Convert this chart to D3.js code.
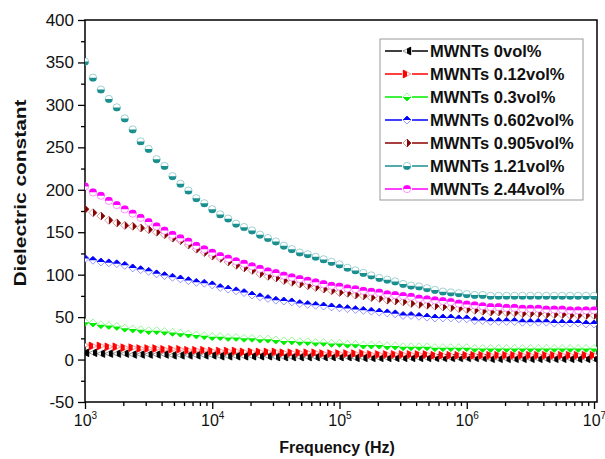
<!DOCTYPE html>
<html>
<head>
<meta charset="utf-8">
<script src="https://cdn.jsdelivr.net/npm/d3@7/dist/d3.min.js"></script>
<style>
  body { margin: 0; background: #fff; }
  text { font-family: Arial, "Liberation Sans", sans-serif; }
</style>
</head>
<body>
<script>
// frequency sweep (Hz), 16 points per decade
const freqs = [
  1000, 1155, 1334, 1540, 1778, 2054, 2371, 2738, 3162, 3652, 4217, 4870, 5623, 6494, 7499, 8660,
  10000, 11548, 13335, 15399, 17783, 20535, 23714, 27384, 31623, 36517, 42170, 48697, 56234, 64938, 74989, 86596,
  100000, 115478, 133352, 153993, 177828, 205353, 237137, 273842, 316228, 365174, 421697, 486968, 562341, 649382, 749894, 865964,
  1000000, 1154782, 1333521, 1539927, 1778279, 2053525, 2371374, 2738420, 3162278, 3651741, 4216965, 4869675, 5623413, 6493816, 7498942, 8659643,
  10000000
];

const mwnt0 = [8,8,7,7,7,7,6,6,6,6, 6,5,5,5,5,5,5,4,4,4, 4,4,4,4,3,3,3,3,3,3,
  3,3,3,3,2,2,2,2,2,2, 2,2,2,2,2,2,2,2,2,2, 2,1,1,1,1,1,1,1,1,1, 1,1,1,1,1];
const mwnt012 = [17,16,16,15,15,14,14,13,13,13, 12,12,12,11,11,11,10,10,10,10, 9,9,9,9,9,8,8,8,8,8,
  7,7,7,7,7,7,6,6,6,6, 6,6,6,6,5,5,5,5,5,5, 5,5,5,5,5,5,5,5,5,5, 5,5,5,5,5];
const mwnt03 = [44,43,41,40,39,37,36,35,34,34, 33,32,31,30,29,28,27,27,26,26, 25,25,24,24,23,22,22,21,21,20,
  20,19,19,18,18,17,17,17,16,16, 15,15,15,15,14,14,14,14,14,13, 13,13,13,13,13,13,13,13,13,13, 13,13,13,13,13];
const mwnt0602 = [119,117,115,114,113,111,108,106,104,101, 99,97,95,93,91,90,88,85,83,81, 79,76,74,72,70,69,68,66,65,64,
  63,62,61,60,59,58,57,56,55,54, 52,52,51,50,49,49,49,48,48,46, 46,45,45,45,45,44,44,44,44,43, 43,43,43,42,42];
const mwnt0905 = [177,173,169,164,161,158,157,155,153,150, 147,143,140,135,130,126,122,119,115,111, 108,105,101,98,96,93,91,89,87,85,
  83,81,79,78,76,75,73,72,70,69, 68,66,65,64,63,62,61,60,59,58, 57,56,56,55,55,54,54,54,53,53, 53,52,52,52,52];
const mwnt121 = [351,332,318,307,297,284,271,257,248,236, 228,216,207,199,190,184,177,171,166,160, 156,152,147,143,139,134,130,126,124,121,
  118,115,112,108,105,102,99,96,94,92, 89,87,86,84,82,80,79,78,77,76, 76,75,75,75,75,75,75,75,75,75, 75,75,75,75,75];
const mwnt244 = [204,197,193,187,182,177,172,167,162,157, 152,147,143,139,134,130,126,122,119,116, 113,110,107,104,102,99,97,95,93,91,
  89,87,86,84,83,81,80,79,77,76, 75,74,72,71,70,69,68,66,65,64, 63,62,62,61,61,60,60,60,59,59, 59,58,58,58,58];

const seriesNames = ['MWNTs 0vol%', 'MWNTs 0.12vol%', 'MWNTs 0.3vol%', 'MWNTs 0.602vol%',
  'MWNTs 0.905vol%', 'MWNTs 1.21vol%', 'MWNTs 2.44vol%'];
const seriesValues = [mwnt0, mwnt012, mwnt03, mwnt0602, mwnt0905, mwnt121, mwnt244];

const yTicks = [-50, 0, 50, 100, 150, 200, 250, 300, 350, 400];
const xTicks = [1e3, 1e4, 1e5, 1e6, 1e7];

// styles
const colors = ['#000000', '#ff0000', '#00ee00', '#0000ff', '#8b0000', '#1a8f8f', '#ff00ff'];
const shapes = ['left', 'right', 'diamond', 'diamond', 'diamond', 'circle', 'circle'];
const halves = ['right', 'left', 'bottom', 'top', 'right', 'bottom', 'top'];

const width = 605, height = 459;
const mLeft = 85, mRight = 597, mTop = 20, mBottom = 402;

const svg = d3.select('body').append('svg')
  .attr('width', width)
  .attr('height', height);

const defs = svg.append('defs');
const halfRects = {
  top: [0, 0, 1, 0.5], bottom: [0, 0.5, 1, 0.5], left: [0, 0, 0.5, 1], right: [0.5, 0, 0.5, 1]
};
Object.keys(halfRects).forEach(k => {
  const r = halfRects[k];
  defs.append('clipPath').attr('id', 'half-' + k)
    .attr('clipPathUnits', 'objectBoundingBox')
    .append('rect').attr('x', r[0]).attr('y', r[1]).attr('width', r[2]).attr('height', r[3]);
});
defs.append('clipPath').attr('id', 'plot')
  .append('rect').attr('x', mLeft).attr('y', mTop).attr('width', mRight - mLeft).attr('height', mBottom - mTop);

const xScale = d3.scaleLog().domain([1e3, 1e7]).range([mLeft, 594]);
const yScale = d3.scaleLinear().domain([-50, 400]).range([mBottom, mTop]);

function shapePath(shape) {
  const r = 4;
  if (shape === 'left') return `M${-r},0L${r},${-r}L${r},${r}Z`;
  if (shape === 'right') return `M${r},0L${-r},${-r}L${-r},${r}Z`;
  if (shape === 'diamond') return `M0,${-r}L${r},0L0,${r}L${-r},0Z`;
  return d3.arc()({innerRadius: 0, outerRadius: 3.7, startAngle: 0, endAngle: 2 * Math.PI});
}

function drawMarker(g, i) {
  const p = shapePath(shapes[i]);
  g.append('path').attr('d', p)
    .attr('fill', '#fff')
    .attr('stroke', colors[i])
    .attr('stroke-opacity', 0.45)
    .attr('stroke-width', 0.9);
  g.append('path').attr('d', p)
    .attr('fill', colors[i])
    .attr('stroke', colors[i])
    .attr('stroke-width', 0.6)
    .attr('clip-path', 'url(#half-' + halves[i] + ')');
}

// axes
const yMinor = d3.range(-50, 401, 25).filter(v => v % 50 !== 0);
svg.append('g')
  .attr('transform', `translate(${mLeft},0)`)
  .call(d3.axisLeft(yScale).tickValues(yMinor).tickSize(4).tickFormat(''))
  .call(g => g.select('.domain').remove());
const yAxis = svg.append('g')
  .attr('transform', `translate(${mLeft},0)`)
  .call(d3.axisLeft(yScale).tickValues(yTicks).tickSize(7).tickPadding(4).tickFormat(d => String(d)));
yAxis.select('.domain').remove();
yAxis.selectAll('text').attr('font-size', 17).attr('fill', '#111');

const xMinor = [];
[1e3, 1e4, 1e5, 1e6].forEach(d => { for (let m = 2; m <= 9; m++) xMinor.push(d * m); });
svg.append('g')
  .attr('transform', `translate(0,${mBottom})`)
  .call(d3.axisBottom(xScale).tickValues(xMinor).tickSize(4).tickFormat(''))
  .call(g => g.select('.domain').remove());
const xAxis = svg.append('g')
  .attr('transform', `translate(0,${mBottom})`)
  .call(d3.axisBottom(xScale).tickValues(xTicks).tickSize(7).tickFormat(''));
xAxis.select('.domain').remove();
xAxis.selectAll('.tick').append('text')
  .attr('y', 24)
  .attr('fill', '#111')
  .attr('font-size', 16)
  .attr('text-anchor', 'middle')
  .each(function(d) {
    const t = d3.select(this);
    t.append('tspan').text('10');
    t.append('tspan').attr('dy', -7).attr('font-size', 10).text(Math.round(Math.log10(d)));
  });

svg.selectAll('.tick line').attr('stroke', '#000').attr('stroke-width', 1.3);

// frame
svg.append('rect')
  .attr('x', mLeft).attr('y', mTop)
  .attr('width', mRight - mLeft).attr('height', mBottom - mTop)
  .attr('fill', 'none').attr('stroke', '#000').attr('stroke-width', 1.5);

// data
const plot = svg.append('g').attr('clip-path', 'url(#plot)');
seriesValues.forEach((vals, i) => {
  const gs = plot.append('g');
  vals.forEach((v, j) => {
    const g = gs.append('g').attr('transform', `translate(${xScale(freqs[j])},${yScale(v)})`);
    drawMarker(g, i);
  });
});

// legend
const legend = svg.append('g');
legend.append('rect')
  .attr('x', 380).attr('y', 39).attr('width', 203).attr('height', 161)
  .attr('fill', '#fff').attr('stroke', '#999').attr('stroke-width', 1);
seriesNames.forEach((name, i) => {
  const y = 51 + i * 23;
  legend.append('line')
    .attr('x1', 385).attr('x2', 428).attr('y1', y).attr('y2', y)
    .attr('stroke', colors[i]).attr('stroke-width', 1.5);
  const g = legend.append('g').attr('transform', `translate(407,${y})`);
  g.append('rect').attr('x', -5).attr('y', -5).attr('width', 10).attr('height', 10).attr('fill', '#fff');
  drawMarker(g, i);
  legend.append('text')
    .attr('x', 430).attr('y', y + 6)
    .attr('font-size', 16.5).attr('font-weight', 'bold').attr('fill', '#111')
    .text(name);
});

// axis titles
svg.append('text')
  .attr('x', 337).attr('y', 453)
  .attr('text-anchor', 'middle')
  .attr('font-size', 16).attr('font-weight', 'bold').attr('fill', '#111')
  .text('Frequency (Hz)');

svg.append('text')
  .attr('transform', 'translate(26,193) rotate(-90)')
  .attr('text-anchor', 'middle')
  .attr('font-size', 17).attr('font-weight', 'bold').attr('fill', '#111')
  .attr('textLength', 187).attr('lengthAdjust', 'spacingAndGlyphs')
  .text('Dielectric constant');
</script>
</body>
</html>
